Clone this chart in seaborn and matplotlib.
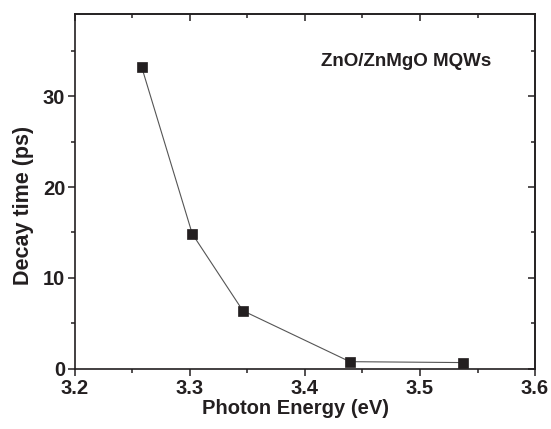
import pandas as pd
import matplotlib
matplotlib.use("Agg")
import matplotlib.pyplot as plt
import seaborn as sns

# Data
photon_energy = [3.258, 3.302, 3.346, 3.439, 3.537]
decay_time = [33.2, 14.85, 6.4, 0.8, 0.7]

df = pd.DataFrame({"Photon Energy (eV)": photon_energy, "Decay time (ps)": decay_time})

sns.set_style("ticks")
plt.rcParams["font.family"] = ["Liberation Sans", "DejaVu Sans"]
plt.rcParams["font.weight"] = "bold"

ink = "#231f20"

fig = plt.figure(figsize=(5.51, 4.29), dpi=100)
ax = fig.add_axes([0.136, 0.140, 0.835, 0.827])

sns.lineplot(data=df, x="Photon Energy (eV)", y="Decay time (ps)", ax=ax,
             color="#555555", linewidth=0.8, marker="s", markersize=7.5,
             markerfacecolor=ink, markeredgecolor=ink, markeredgewidth=0.5)

ax.set_xlim(3.2, 3.6)
ax.set_ylim(0, 39)
ax.set_xticks([3.2, 3.3, 3.4, 3.5, 3.6])
ax.set_xticks([3.25, 3.35, 3.45, 3.55], minor=True)
ax.set_yticks([0, 10, 20, 30])
ax.set_yticks([5, 15, 25, 35], minor=True)

ax.set_xlabel("Photon Energy (eV)", fontsize=14.5, fontweight="bold", color=ink)
ax.set_ylabel("Decay time (ps)", fontsize=15.5, fontweight="bold", color=ink)
ax.xaxis.set_label_coords(0.48, -0.085)
ax.yaxis.set_label_coords(-0.088, 0.46)

ax.tick_params(which="major", direction="out", length=5, width=1.1, colors=ink,
               labelsize=14.5, pad=2)
ax.tick_params(which="minor", direction="out", length=3, width=1.1, colors=ink)
for lab in ax.get_xticklabels() + ax.get_yticklabels():
    lab.set_fontweight("bold")

for s in ax.spines.values():
    s.set_linewidth(1.2)
    s.set_color(ink)

# mirrored inward ticks on top and right
top = ax.secondary_xaxis("top")
top.set_xticks([3.2, 3.3, 3.4, 3.5, 3.6])
top.set_xticks([3.25, 3.35, 3.45, 3.55], minor=True)
top.tick_params(which="major", direction="in", length=5, width=1.1, colors=ink, labeltop=False)
top.tick_params(which="minor", direction="in", length=3, width=1.1, colors=ink)
top.spines["top"].set_linewidth(1.2)

right = ax.secondary_yaxis("right")
right.set_yticks([0, 10, 20, 30])
right.set_yticks([5, 15, 25, 35], minor=True)
right.tick_params(which="major", direction="in", length=5, width=1.1, colors=ink, labelright=False)
right.tick_params(which="minor", direction="in", length=3, width=1.1, colors=ink)
right.spines["right"].set_linewidth(1.2)

ax.text(3.414, 33.8, "ZnO/ZnMgO MQWs", fontsize=13.5, fontweight="bold", color=ink,
        ha="left", va="center")

fig.savefig("out.png", dpi=100)
